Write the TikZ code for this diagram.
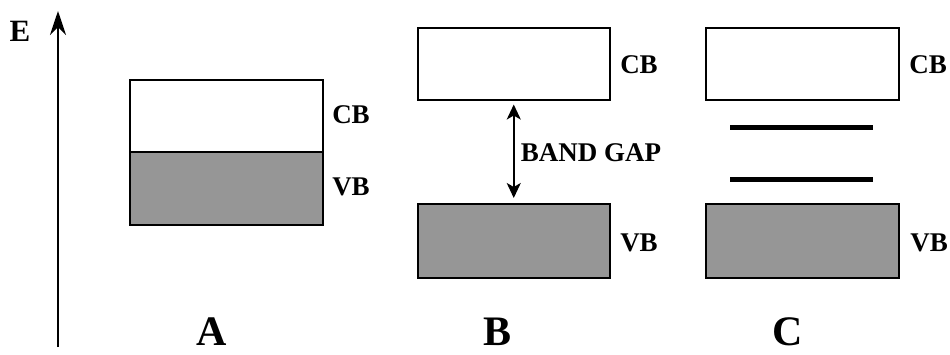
\documentclass[tikz,border=0pt]{standalone}
\usepackage{fontspec}
\setmainfont{Liberation Serif}
\usetikzlibrary{arrows.meta}
\definecolor{bandgray}{RGB}{150,150,150}
\tikzset{
  px/.style={x=1pt,y=-1pt},
  bandbox/.style={draw=black, line width=1.5pt, rectangle, inner sep=0pt, anchor=north west},
  emptyband/.style={bandbox, fill=white},
  fullband/.style={bandbox, fill=bandgray},
  lbl/.style={font=\fontsize{27}{30}\selectfont\bfseries, inner sep=0pt},
  bigl/.style={font=\fontsize{42}{46}\selectfont\bfseries, inner sep=0pt, anchor=base},
  level/.style={line width=5pt},
  gaparrow/.style={line width=2pt, {Stealth[length=15pt,width=14pt,inset=4pt]}-{Stealth[length=15pt,width=14pt,inset=4pt]}},
  eaxis/.style={line width=2.2pt, -{Stealth[length=24pt,width=16pt,inset=8pt]}}
}
\begin{document}
\begin{tikzpicture}[px]
\useasboundingbox (0,0) rectangle (950,354);
% energy axis
\coordinate (ebot) at (58,347);
\coordinate (etop) at (58,11);
\draw[eaxis] (ebot) -- (etop);
\node[inner sep=0pt, font=\fontsize{31}{34}\selectfont\bfseries] (elbl) at (20,31) {E};
% panel A
\node[emptyband, minimum width=193pt, minimum height=72pt] (acb) at (129,79) {};
\node[fullband, minimum width=193pt, minimum height=73pt] (avb) at (129,151) {};
\node[lbl] (acbl) at (351,115) {CB};
\node[lbl] (avbl) at (351,187) {VB};
\node[bigl] (alab) at (212,345) {A};
% panel B
\node[emptyband, minimum width=192pt, minimum height=72pt] (bcb) at (417,27) {};
\node[fullband, minimum width=192pt, minimum height=74pt] (bvb) at (417,203) {};
\draw[gaparrow, shorten <=4pt, shorten >=5pt] (bcb) -- (bvb);
\node[lbl] (gapl) at (591,153) {BAND GAP};
\node[lbl] (bcbl) at (639,65) {CB};
\node[lbl] (bvbl) at (639,243) {VB};
\node[bigl] (blab) at (498,345) {B};
% panel C
\node[emptyband, minimum width=193pt, minimum height=72pt] (ccb) at (705,27) {};
\node[fullband, minimum width=193pt, minimum height=74pt] (cvb) at (705,203) {};
\coordinate (l1a) at (730,127); \coordinate (l1b) at (873,127);
\coordinate (l2a) at (730,179); \coordinate (l2b) at (873,179);
\draw[level] (l1a) -- (l1b);
\draw[level] (l2a) -- (l2b);
\node[lbl] (ccbl) at (928,65) {CB};
\node[lbl] (cvbl) at (929,243) {VB};
\node[bigl] (clab) at (788,345) {C};
\end{tikzpicture}
\end{document}
